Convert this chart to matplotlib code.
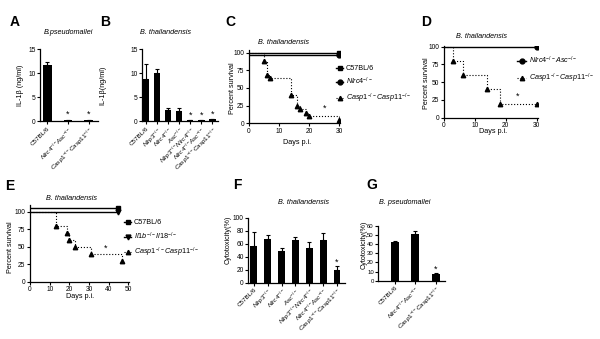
import matplotlib
matplotlib.use("Agg")
import matplotlib.pyplot as plt
from matplotlib.lines import Line2D
import numpy as np

plt.rcParams['font.family'] = ['Liberation Sans', 'DejaVu Sans']
plt.rcParams['mathtext.fontset'] = 'custom'
plt.rcParams['mathtext.rm'] = 'Liberation Sans'
plt.rcParams['mathtext.it'] = 'Liberation Sans:italic'
plt.rcParams['mathtext.bf'] = 'Liberation Sans:bold'

KO = r'^{-/-}'
def g(*names):
    return '$' + ''.join(r'\mathit{%s}%s' % (n, KO) for n in names) + '$'

# ---------------- data ----------------
a_labels = ['C57BL/6', g('Nlrc4', 'Asc'), g('Casp1', 'Casp11')]
a_values = [11.6, 0.3, 0.3]
a_err = [0.7, 0.0, 0.0]
a_star = [False, True, True]

b_labels = ['C57BL/6', g('Nlrp3'), g('Nlrc4'), g('Asc'), g('Nlrp3', 'Nlrc4'),
            g('Nlrc4', 'Asc'), g('Casp1', 'Casp11')]
b_values = [8.8, 10.0, 2.2, 2.0, 0.2, 0.2, 0.5]
b_err = [3.1, 0.9, 0.6, 0.8, 0.0, 0.0, 0.0]
b_star = [False, False, False, False, True, True, True]

c_ctrl_days = [0, 30]
c_c57 = [100, 100]
c_nlrc4 = [96, 96]
c_casp_days = [0, 5, 6, 7, 14, 16, 17, 19, 20, 30]
c_casp = [100, 88, 69, 64, 40, 25, 20, 15, 10, 5]

d_ctrl_days = [0, 30]
d_nlrc4asc = [100, 100]
d_casp_days = [0, 3, 6, 14, 18, 30]
d_casp = [100, 80, 60, 40, 20, 20]

e_ctrl_days = [0, 45]
e_c57 = [105, 105]
e_il = [100, 100]
e_casp_days = [0, 13, 19, 20, 23, 31, 47]
e_casp = [100, 80, 70, 60, 50, 40, 30]

f_labels = b_labels
f_values = [57, 67, 49, 65, 53, 65, 20]
f_err = [21, 6, 4, 5, 10, 12, 5]
f_star = [False] * 6 + [True]

g_labels = a_labels
g_values = [42, 51, 7]
g_err = [2, 4, 1]
g_star = [False, False, True]

# ---------------- layout helpers ----------------
W, H = 600, 339
fig = plt.figure(figsize=(W / 100, H / 100), dpi=100)

def add_ax(l, t, r, b):
    return fig.add_axes([l / W, 1 - b / H, (r - l) / W, (b - t) / H])

def ftext(x, y, s, **kw):
    return fig.text(x / W, 1 - y / H, s, **kw)

TICK = 4.8
XTICK = 4.5
def style(ax, size=TICK):
    for s in ['top', 'right']:
        ax.spines[s].set_visible(False)
    for s in ['left', 'bottom']:
        ax.spines[s].set_linewidth(0.9)
    ax.tick_params(length=2, width=0.8, labelsize=size, pad=1.2, direction='out')

def bars(ax, labels, values, err, stars, width, star_off, size=TICK):
    x = np.arange(len(values))
    ax.bar(x, values, width=width, color='black', zorder=2)
    ax.errorbar(x, values, yerr=[np.zeros(len(err)), err], fmt='none',
                ecolor='black', elinewidth=0.8, capsize=1.3, capthick=0.8, zorder=3)
    for xi, v, e, s in zip(x, values, err, stars):
        if s:
            ax.text(xi, v + e + star_off, '*', ha='center', va='center', fontsize=6.5)
    style(ax, size)
    ax.set_xticks(x)
    ax.set_xticklabels(labels, rotation=45, ha='right', rotation_mode='anchor', fontsize=XTICK)

# ---------------- A ----------------
axA = add_ax(40, 49, 98, 121)
bars(axA, a_labels, a_values, a_err, a_star, 0.42, 1.1)
axA.set_ylim(0, 15)
axA.set_yticks([0, 5, 10, 15])
axA.set_xlim(-0.35, 2.45)

# ---------------- B ----------------
axB = add_ax(142, 49, 218, 121)
bars(axB, b_labels, b_values, b_err, b_star, 0.55, 0.9)
axB.set_ylim(0, 15)
axB.set_yticks([0, 5, 10, 15])
axB.set_xlim(-0.4, 6.5)

# ---------------- C ----------------
axC = add_ax(249, 50.2, 340, 123.3)
axC.plot(c_ctrl_days, c_c57, color='black', lw=1.0)
axC.plot(c_ctrl_days[-1:], c_c57[-1:], 's', color='black', ms=3.5)
axC.plot(c_ctrl_days, c_nlrc4, color='black', lw=1.0)
axC.plot(c_ctrl_days[-1:], c_nlrc4[-1:], 'o', color='black', ms=3.5)
axC.step(c_casp_days, c_casp, where='post', color='black', lw=0.8, ls=':')
axC.plot(c_casp_days[1:], c_casp[1:], '^', color='black', ms=3.2, ls='none')
axC.text(25.2, 21, '*', ha='center', va='center', fontsize=6.5)
axC.set_xlim(0, 30.3)
axC.set_ylim(0, 103.5)
axC.set_xticks([0, 10, 20, 30])
axC.set_yticks([0, 25, 50, 75, 100])
style(axC)
hC = [Line2D([], [], color='black', lw=1.0, marker='s', ms=3.5),
      Line2D([], [], color='black', lw=1.0, marker='o', ms=3.5),
      Line2D([], [], color='black', lw=0.8, ls=':', marker='^', ms=3.2)]
fig.legend(hC, ['C57BL/6', g('Nlrc4'), g('Casp1', 'Casp11')],
           loc='upper left', bbox_to_anchor=(336 / W, 1 - 65 / H), frameon=False,
           fontsize=5.2, handlelength=1.0, handletextpad=0.4, labelspacing=0.55,
           borderpad=0, borderaxespad=0)

# ---------------- D ----------------
axD = add_ax(444, 46, 537.5, 117.7)
axD.plot(d_ctrl_days, d_nlrc4asc, color='black', lw=1.0)
axD.plot(d_ctrl_days[-1:], d_nlrc4asc[-1:], 'o', color='black', ms=3.5)
axD.step(d_casp_days, d_casp, where='post', color='black', lw=0.8, ls=':')
axD.plot(d_casp_days[1:], d_casp[1:], '^', color='black', ms=3.2, ls='none')
axD.text(24, 30, '*', ha='center', va='center', fontsize=6.5)
axD.set_xlim(0, 30.3)
axD.set_ylim(0, 101)
axD.set_xticks([0, 10, 20, 30])
axD.set_yticks([0, 25, 50, 75, 100])
style(axD)
hD = [Line2D([], [], color='black', lw=1.0, marker='o', ms=3.5),
      Line2D([], [], color='black', lw=0.8, ls=':', marker='^', ms=3.2)]
fig.legend(hD, [g('Nlrc4', 'Asc'), g('Casp1', 'Casp11')],
           loc='upper left', bbox_to_anchor=(517 / W, 1 - 55 / H), frameon=False,
           fontsize=5.2, handlelength=1.3, handletextpad=0.4, labelspacing=0.75,
           borderpad=0, borderaxespad=0)

# ---------------- E ----------------
axE = add_ax(30, 205, 129, 281.7)
axE.plot(e_ctrl_days, e_c57, color='black', lw=1.0)
axE.plot(e_ctrl_days[-1:], e_c57[-1:], 's', color='black', ms=3.5)
axE.plot(e_ctrl_days, e_il, color='black', lw=1.0)
axE.plot(e_ctrl_days[-1:], e_il[-1:], 'v', color='black', ms=3.5)
axE.step(e_casp_days, e_casp, where='post', color='black', lw=0.8, ls=':')
axE.plot(e_casp_days[1:], e_casp[1:], '^', color='black', ms=3.2, ls='none')
axE.text(38.7, 48, '*', ha='center', va='center', fontsize=6.5)
axE.set_xlim(0, 50.35)
axE.set_ylim(0, 109.6)
axE.set_xticks([0, 10, 20, 30, 40, 50])
axE.set_yticks([0, 25, 50, 75, 100])
style(axE)
hE = [Line2D([], [], color='black', lw=1.0, marker='s', ms=3.5),
      Line2D([], [], color='black', lw=1.0, marker='v', ms=3.5),
      Line2D([], [], color='black', lw=0.8, ls=':', marker='^', ms=3.2)]
fig.legend(hE, ['C57BL/6', g('Il1b', 'Il18'), g('Casp1', 'Casp11')],
           loc='upper left', bbox_to_anchor=(124 / W, 1 - 219 / H), frameon=False,
           fontsize=5.2, handlelength=1.0, handletextpad=0.4, labelspacing=0.6,
           borderpad=0, borderaxespad=0)

# ---------------- F ----------------
axF = add_ax(248.3, 217.7, 345, 282.7)
bars(axF, f_labels, f_values, f_err, f_star, 0.5, 7)
axF.set_ylim(0, 100)
axF.set_yticks([0, 20, 40, 60, 80, 100])
axF.set_xlim(-0.4, 6.58)

# ---------------- G ----------------
axG = add_ax(378.3, 226, 445, 280.7)
bars(axG, g_labels, g_values, g_err, g_star, 0.38, 5, size=4.3)
axG.set_ylim(0, 60)
axG.set_yticks([0, 10, 20, 30, 40, 50, 60])
axG.set_xlim(-0.8, 2.45)

# ---------------- texts ----------------
for lab, x, y in [('A', 15, 22), ('B', 105, 22), ('C', 230, 22), ('D', 426, 22),
                  ('E', 10, 186), ('F', 237, 185), ('G', 372, 185)]:
    ftext(x, y, lab, fontsize=10, fontweight='bold', ha='center', va='center')

tkw = dict(fontsize=5.2, style='italic', ha='center', va='center')
ftext(68, 32, 'B.pseudomallei', **tkw)
ftext(166, 32, 'B. thailandensis', **tkw)
ftext(283, 42, 'B. thailandensis', **tkw)
ftext(482, 36, 'B. thailandensis', **tkw)
ftext(71, 199, 'B. thailandensis', **tkw)
ftext(303, 203, 'B. thailandensis', **tkw)
ftext(405, 203, 'B. pseudomallei', **tkw)

ykw = dict(fontsize=5.2, rotation=90, ha='center', va='center')
ftext(20, 85, 'IL-1β (ng/ml)', **ykw)
ftext(103, 85, 'IL-1β(ng/ml)', **ykw)
ftext(232, 88, 'Percent survival', **ykw)
ftext(427, 83, 'Percent survival', **ykw)
ftext(11, 247, 'Percent survival', **ykw)
ftext(228, 240, 'Cytotoxicity(%)', **ykw)
ftext(364, 245, 'Cytotoxicity(%)', **ykw)

xkw = dict(fontsize=5.2, ha='center', va='center')
ftext(297, 142, 'Days p.i.', **xkw)
ftext(493, 132, 'Days p.i.', **xkw)
ftext(80, 296, 'Days p.i.', **xkw)

fig.savefig('out.png', dpi=100)
